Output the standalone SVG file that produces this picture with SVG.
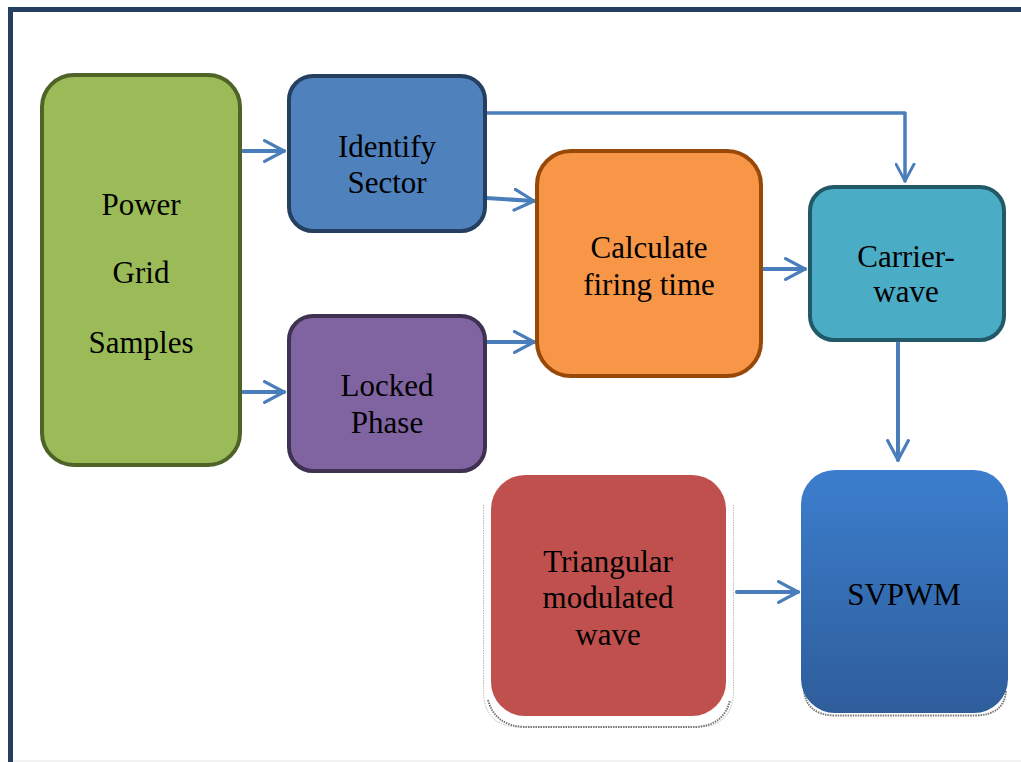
<svg xmlns="http://www.w3.org/2000/svg" width="1021" height="762" viewBox="0 0 1021 762">
<style>
.t{font-family:"Liberation Serif","Times New Roman",serif;font-size:31px;fill:#000;text-anchor:middle}
.c{fill:none;stroke:#4a7ebb;stroke-width:4;stroke-linecap:round;stroke-linejoin:round}
.b{stroke-width:4}
</style>
<defs>
<linearGradient id="gsv" x1="0" y1="0" x2="0" y2="1">
<stop offset="0" stop-color="#3c7ecd"/>
<stop offset="1" stop-color="#2e5d9b"/>
</linearGradient>
<marker id="ah" viewBox="0 0 12 12" refX="10.5" refY="6" markerWidth="6" markerHeight="6" markerUnits="strokeWidth" orient="auto">
<path d="M0.8,0.8 L10.5,6 L0.8,11.2" fill="none" stroke="#4a7ebb" stroke-width="1.6" stroke-linecap="round" stroke-linejoin="round"/>
</marker>
</defs>
<rect width="1021" height="762" fill="#fff"/>
<path d="M10.5,770 V9.5 H1030" fill="none" stroke="#243f60" stroke-width="5"/>
<line x1="13" y1="761" x2="1021" y2="761" stroke="#e6e6e6" stroke-width="1"/>

<g id="connectors">
<path class="c" d="M243,151 H284" marker-end="url(#ah)"/>
<path class="c" d="M243,392 H284" marker-end="url(#ah)"/>
<path class="c" d="M486,198 L534,201" marker-end="url(#ah)"/>
<path class="c" d="M486,342 H534" marker-end="url(#ah)"/>
<path class="c" d="M486,113 H905 V181" style="stroke-width:3.5" marker-end="url(#ah)"/>
<path class="c" d="M762,269 H805" marker-end="url(#ah)"/>
<path class="c" d="M898,343 V460" marker-end="url(#ah)"/>
<path class="c" d="M737,592 H798" marker-end="url(#ah)"/>
</g>

<g id="power-grid">
<rect x="42" y="75" width="198" height="390" rx="32" fill="#9bbb59" stroke="#4f6228" class="b"/>
<text class="t" x="141" y="215">Power</text>
<text class="t" x="141" y="283">Grid</text>
<text class="t" x="141" y="353">Samples</text>
</g>

<g id="identify-sector">
<rect x="289" y="76" width="196" height="155" rx="24" fill="#4f81bd" stroke="#243f60" class="b"/>
<text class="t" x="387" y="157">Identify</text>
<text class="t" x="387" y="193">Sector</text>
</g>

<g id="locked-phase">
<rect x="289" y="316" width="196" height="155" rx="24" fill="#8064a2" stroke="#3f3151" class="b"/>
<text class="t" x="387" y="396">Locked</text>
<text class="t" x="387" y="433">Phase</text>
</g>

<g id="calculate">
<rect x="537" y="151" width="224" height="225" rx="34" fill="#f79646" stroke="#984807" class="b"/>
<text class="t" x="649" y="258">Calculate</text>
<text class="t" x="649" y="295">firing time</text>
</g>

<g id="carrier-wave">
<rect x="810" y="187" width="194" height="153" rx="24" fill="#4bacc6" stroke="#215968" class="b"/>
<text class="t" x="906" y="267">Carrier-</text>
<text class="t" x="906" y="302">wave</text>
</g>

<g id="triangular">
<path d="M483.5,505 V690 Q483.5,727 520,727 H697 Q733.5,727 733.5,690 V505" fill="#fff" stroke="#bbb" stroke-width="1" stroke-dasharray="1.5 1"/>
<path d="M488,700 Q495,726 525,727 H695 Q724,726 730,700" fill="none" stroke="#777" stroke-width="2" stroke-dasharray="1.5 1"/>
<rect x="491" y="475" width="235" height="241" rx="34" fill="#c0504d"/>
<text class="t" x="608" y="572">Triangular</text>
<text class="t" x="608" y="608">modulated</text>
<text class="t" x="608" y="645">wave</text>
</g>

<g id="svpwm">
<path d="M804,690 Q806,715 835,715.5 H975 Q1005,715 1006,690" fill="none" stroke="#777" stroke-width="2" stroke-dasharray="1.5 1"/>
<rect x="801" y="470" width="207" height="243" rx="34" fill="url(#gsv)"/>
<text class="t" x="904" y="605">SVPWM</text>
</g>
</svg>
